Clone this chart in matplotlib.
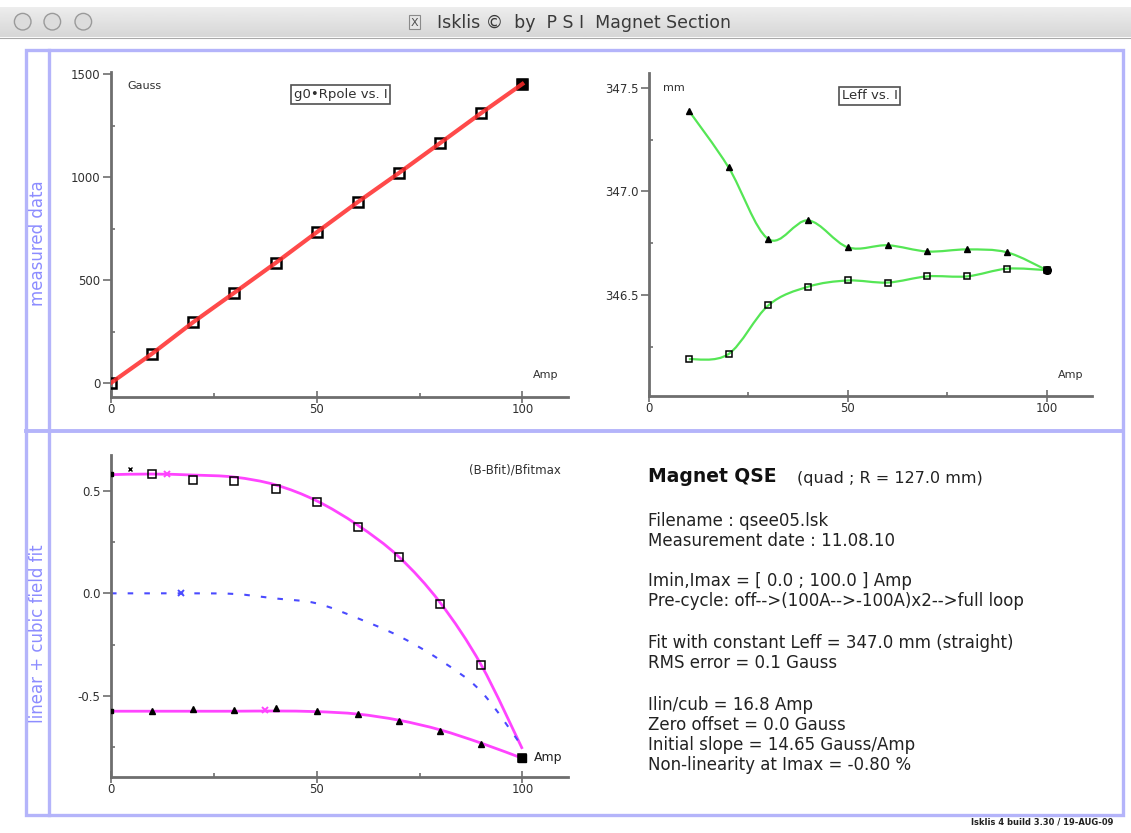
import numpy as np
import matplotlib
matplotlib.use("Agg")
import matplotlib.pyplot as plt
from matplotlib.path import Path
from matplotlib.patches import PathPatch, Rectangle, Circle
from matplotlib.ticker import FixedLocator

W, H = 1131, 833

# measured data: g0*Rpole vs current
current = [0, 10, 20, 30, 40, 50, 60, 70, 80, 90, 100]
g0_rpole = [2, 144, 297, 440, 584, 733, 880, 1021, 1166, 1312, 1453]

# Leff vs current (two branches of the loop)
leff_current = [10, 20, 30, 40, 50, 60, 70, 80, 90, 100]
leff_up = [347.39, 347.116, 346.77, 346.86, 346.73, 346.74, 346.71, 346.72, 346.706, 346.62]
leff_down = [346.19, 346.215, 346.45, 346.54, 346.57, 346.56, 346.59, 346.59, 346.627, 346.62]

# (B-Bfit)/Bfitmax in %, measured points
res_up = [0.583, 0.553, 0.549, 0.508, 0.445, 0.324, 0.176, -0.052, -0.352, -0.806]
res_down = [-0.575, -0.565, -0.570, -0.559, -0.575, -0.590, -0.624, -0.673, -0.736, -0.806]

# fitted curves read at 0..100 A
fit_current = [0, 10, 20, 30, 40, 50, 60, 70, 80, 90, 100]
fit_up = [0.580, 0.583, 0.578, 0.568, 0.530, 0.452, 0.333, 0.178, -0.045, -0.350, -0.760]
fit_down = [-0.576, -0.576, -0.576, -0.576, -0.575, -0.578, -0.590, -0.620, -0.667, -0.732, -0.806]
fit_cubic = [0.0, 0.0, 0.0, -0.003, -0.025, -0.049, -0.122, -0.209, -0.326, -0.480, -0.750]

info_lines = [
    ("Filename : qsee05.lsk", 520.7),
    ("Measurement date : 11.08.10", 540.5),
    ("Imin,Imax = [ 0.0 ; 100.0 ] Amp", 581),
    ("Pre-cycle: off-->(100A-->-100A)x2-->full loop", 601.5),
    ("Fit with constant Leff = 347.0 mm (straight)", 642.7),
    ("RMS error = 0.1 Gauss", 662.7),
    ("Ilin/cub = 16.8 Amp", 705),
    ("Zero offset = 0.0 Gauss", 725),
    ("Initial slope = 14.65 Gauss/Amp", 745.5),
    ("Non-linearity at Imax = -0.80 %", 765.5),
]

FRAME = "#b4b4fa"
AXCOL = "#6e6e6e"
plt.rcParams["lines.scale_dashes"] = False


def px_rect(left, top, right, bottom):
    return [left / W, 1 - bottom / H, (right - left) / W, (bottom - top) / H]


def smooth_path(x, y):
    """Catmull-Rom curve through the points, as cubic Bezier segments."""
    p = np.column_stack([x, y]).astype(float)
    p_ext = np.vstack([p[0], p, p[-1]])
    verts = [p[0]]
    codes = [Path.MOVETO]
    for i in range(1, len(p_ext) - 2):
        p0, p1, p2, p3 = p_ext[i - 1], p_ext[i], p_ext[i + 1], p_ext[i + 2]
        verts += [p1 + (p2 - p0) / 6, p2 - (p3 - p1) / 6, p2]
        codes += [Path.CURVE4] * 3
    return Path(verts, codes)


def style_axes(ax, xlim, ylim, yticks, ylabels, yminor):
    ax.set_xlim(xlim)
    ax.set_ylim(ylim)
    for side in ("top", "right"):
        ax.spines[side].set_visible(False)
    for side in ("left", "bottom"):
        ax.spines[side].set_color(AXCOL)
        ax.spines[side].set_linewidth(2)
    ax.set_facecolor("none")
    ax.set_xticks([0, 50, 100])
    ax.set_xticklabels(["0", "50", "100"])
    ax.xaxis.set_minor_locator(FixedLocator([25, 75]))
    ax.set_yticks(yticks)
    ax.set_yticklabels(ylabels)
    ax.yaxis.set_minor_locator(FixedLocator(yminor))
    ax.tick_params(axis="y", which="major", direction="out", length=6, width=1.2,
                   color=AXCOL, labelsize=8.5, pad=1.5, labelcolor="#303030")
    ax.tick_params(axis="x", which="major", direction="inout", length=9, width=1.2,
                   color=AXCOL, labelsize=8.5, pad=0, labelcolor="#303030")
    ax.tick_params(which="minor", direction="in", length=3, width=1.2, color=AXCOL)


def title_box(ax, x, y, s):
    ax.text(x, y, s, transform=ax.transAxes, ha="center", va="center", fontsize=9.5,
            color="#303030",
            bbox=dict(boxstyle="square,pad=0.2", fc="white", ec="#505050", lw=1.2))


fig = plt.figure(figsize=(W / 100, H / 100), dpi=100)

# window chrome and frame, drawn in pixel coordinates
bg = fig.add_axes([0, 0, 1, 1])
bg.set_xlim(0, W)
bg.set_ylim(H, 0)
bg.axis("off")
grad = np.linspace(0.93, 0.84, 50)[:, None]
bg.imshow(grad, extent=(0, W, 37, 7), cmap="gray", vmin=0, vmax=1, aspect="auto")
bg.plot([0, W], [37.5, 37.5], color="#a8a8a8", lw=0.8)
for cx in (22.7, 52.3, 83.3):
    bg.add_patch(Circle((cx, 21.7), 8.3, fc="#dcdcdc", ec="#9a9a9a", lw=1.0))
bg.add_patch(Rectangle((409, 15), 11, 14, fc="#e6e6e6", ec="#8a8a8a", lw=0.8))
bg.text(414.5, 22.5, "X", ha="center", va="center", fontsize=8, color="#505050")
bg.text(437, 22.5, "Isklis \u00a9  by  P S I  Magnet Section", ha="left", va="center",
        fontsize=12.5, color="#3a3a3a")

bg.add_patch(Rectangle((26, 50), 1123 - 26, 815 - 50, fill=False, ec=FRAME, lw=2.4))
bg.plot([49, 49], [50, 815], color=FRAME, lw=2.4)
bg.plot([26, 1123], [431, 431], color=FRAME, lw=2.8)
bg.text(38, 243, "measured data", rotation=90, ha="center", va="center",
        fontsize=12, color="#8c8cff")
bg.text(38, 634, "linear + cubic field fit", rotation=90, ha="center", va="center",
        fontsize=12, color="#8c8cff")
bg.text(1113, 822, "Isklis 4 build 3.30 / 19-AUG-09", ha="right", va="center",
        fontsize=6, fontweight="bold", color="#202020")

# text panel
bg.text(648, 476, "Magnet QSE", ha="left", va="center", fontsize=13.5,
        fontweight="bold", color="#111111")
bg.text(797, 478, "(quad ; R = 127.0 mm)", ha="left", va="center", fontsize=11.5,
        color="#222222")
for line, ypx in info_lines:
    bg.text(648, ypx, line, ha="left", va="center", fontsize=12, color="#222222")

# top-left: g0*Rpole vs I
ax1 = fig.add_axes(px_rect(111, 71.7, 568, 396.7))
style_axes(ax1, (0, 111.1), (-65, 1512.6), [0, 500, 1000, 1500],
           ["0", "500", "1000", "1500"], [250, 750, 1250])
ax1.plot(current, g0_rpole, ls="none", marker="s", ms=6.5, mfc="none", mec="black",
         mew=1.8, zorder=3)
ax1.plot(current[-1:], g0_rpole[-1:], ls="none", marker="s", ms=6.5, color="black",
         zorder=3)
ax1.plot(current, g0_rpole, color="#ff2a2a", lw=3, alpha=0.85, zorder=4)
title_box(ax1, 0.502, 0.93, "g0\u2022Rpole vs. I")
ax1.text(0.035, 0.955, "Gauss", transform=ax1.transAxes, fontsize=8, va="center",
         color="#303030")
ax1.text(0.924, 0.067, "Amp", transform=ax1.transAxes, fontsize=8, va="center",
         color="#303030")

# top-right: Leff vs I
ax2 = fig.add_axes(px_rect(649, 73.3, 1091.7, 395.7))
style_axes(ax2, (0, 111.3), (346.014, 347.57), [346.5, 347.0, 347.5],
           ["346.5", "347.0", "347.5"], [346.25, 346.75, 347.25])
for vals in (leff_up, leff_down):
    ax2.add_patch(PathPatch(smooth_path(leff_current, vals), fc="none",
                            ec="#55e655", lw=1.6, zorder=2))
ax2.plot(leff_current, leff_up, ls="none", marker="^", ms=5, color="black", zorder=3)
ax2.plot(leff_current, leff_down, ls="none", marker="s", ms=5, mfc="none",
         mec="black", mew=1.1, zorder=3)
ax2.plot(leff_current[-1:], leff_up[-1:], ls="none", marker="o", ms=5.5,
         color="black", zorder=4)
title_box(ax2, 0.498, 0.93, "Leff vs. I")
ax2.text(0.032, 0.955, "mm", transform=ax2.transAxes, fontsize=8, va="center",
         color="#303030")
ax2.text(0.924, 0.064, "Amp", transform=ax2.transAxes, fontsize=8, va="center",
         color="#303030")

# bottom-left: residuals of linear + cubic fit
ax3 = fig.add_axes(px_rect(111, 455, 568, 776.7))
style_axes(ax3, (0, 111.1), (-0.896, 0.676), [-0.5, 0.0, 0.5],
           ["-0.5", "0.0", "0.5"], [-0.75, -0.25, 0.25])
for vals in (fit_up, fit_down):
    ax3.add_patch(PathPatch(smooth_path(fit_current, vals), fc="none",
                            ec="#ff44ff", lw=2.0, zorder=2))
ax3.add_patch(PathPatch(smooth_path(fit_current, fit_cubic), fc="none", ec="#4a4aff",
                        lw=1.5, ls=(0, (4, 8)), zorder=2))
ax3.plot(leff_current, res_up, ls="none", marker="s", ms=5.5, mfc="none",
         mec="black", mew=1.1, zorder=3)
ax3.plot(leff_current, res_down, ls="none", marker="^", ms=5, color="black", zorder=3)
ax3.plot(leff_current[-1:], res_up[-1:], ls="none", marker="s", ms=5.5, color="black",
         zorder=4)
ax3.plot([13.5, 37.4], [0.583, -0.57], ls="none", marker="x", ms=5, mew=1.4,
         color="#ff44ff", zorder=4)
ax3.plot([16.9], [0.0], ls="none", marker="x", ms=5, mew=1.4, color="#4a4aff", zorder=4)
ax3.plot([4.6], [0.61], ls="none", marker="x", ms=3.5, mew=1.0, color="black", zorder=4)
ax3.plot([0, 0], [0.583, -0.576], ls="none", marker="s", ms=2.5, color="black", zorder=4)
ax3.text(0.985, 0.952, "(B-Bfit)/Bfitmax", transform=ax3.transAxes, ha="right",
         va="center", fontsize=8.5, color="#303030")
ax3.text(0.925, 0.06, "Amp", transform=ax3.transAxes, ha="left", va="center",
         fontsize=9, color="#202020")

fig.savefig("out.png", dpi=100)
